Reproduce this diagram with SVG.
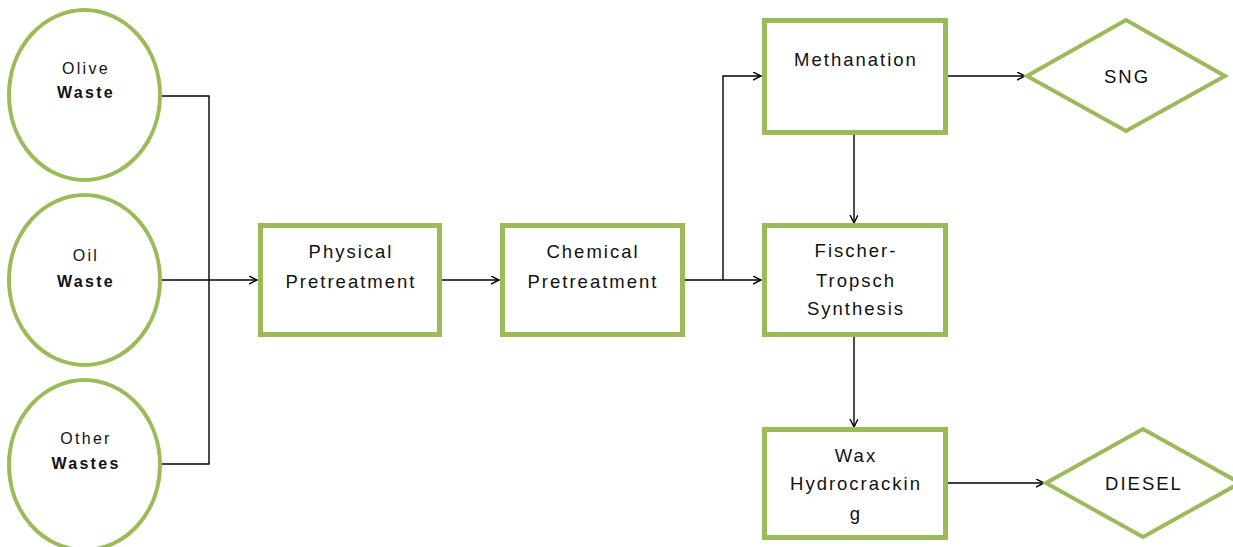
<svg xmlns="http://www.w3.org/2000/svg" width="1233" height="547" viewBox="0 0 1233 547">
<defs>
<style>
.shape{fill:#fff;stroke:#9BBB59}
.box{stroke-width:5}
.ell{stroke-width:4}
.lbl{font-family:"Liberation Sans",Arial,sans-serif;font-size:18.5px;letter-spacing:2px;fill:#111;text-anchor:middle}
.clbl{font-family:"Liberation Sans",Arial,sans-serif;font-size:16px;letter-spacing:2.3px;fill:#111;text-anchor:middle}
.b{font-weight:bold}
.con{fill:none;stroke:#000;stroke-width:1.4}
</style>
<marker id="arr" markerUnits="userSpaceOnUse" markerWidth="10" markerHeight="10" refX="8" refY="4" orient="auto">
<path d="M0,0 L8,4 L0,8" fill="none" stroke="#000" stroke-width="1.4"/>
</marker>
</defs>
<rect width="1233" height="547" fill="#fff"/>

<g id="connectors">
<path class="con" d="M162,96 H209 V464 H162"/>
<path class="con" d="M162,280 H257" marker-end="url(#arr)"/>
<path class="con" d="M442,280 H499" marker-end="url(#arr)"/>
<path class="con" d="M685,280 H761" marker-end="url(#arr)"/>
<path class="con" d="M723,280 V76 H761" marker-end="url(#arr)"/>
<path class="con" d="M948,76 H1025" marker-end="url(#arr)"/>
<path class="con" d="M854,135 V223" marker-end="url(#arr)"/>
<path class="con" d="M854,337 V427" marker-end="url(#arr)"/>
<path class="con" d="M948,483 H1044" marker-end="url(#arr)"/>
</g>

<g id="olive">
<ellipse class="shape ell" cx="84.5" cy="95" rx="75.5" ry="85"/>
<text class="clbl" x="86" y="74">Olive</text>
<text class="clbl b" x="86" y="98">Waste</text>
</g>
<g id="oil">
<ellipse class="shape ell" cx="84.5" cy="280" rx="75.5" ry="85"/>
<text class="clbl" x="86" y="261">Oil</text>
<text class="clbl b" x="86" y="287">Waste</text>
</g>
<g id="other">
<ellipse class="shape ell" cx="84.5" cy="465" rx="75.5" ry="85"/>
<text class="clbl" x="86" y="444">Other</text>
<text class="clbl b" x="86" y="469">Wastes</text>
</g>

<g id="physical">
<rect class="shape box" x="260.5" y="225.5" width="179" height="109"/>
<text class="lbl" x="351" y="258">Physical</text>
<text class="lbl" x="351" y="288">Pretreatment</text>
</g>
<g id="chemical">
<rect class="shape box" x="502.5" y="225.5" width="180" height="109"/>
<text class="lbl" x="593" y="258">Chemical</text>
<text class="lbl" x="593" y="288">Pretreatment</text>
</g>
<g id="methanation">
<rect class="shape box" x="764.5" y="20.5" width="181" height="112"/>
<text class="lbl" x="856" y="66">Methanation</text>
</g>
<g id="sng">
<polygon class="shape ell" points="1027,76 1126,20 1225,76 1126,131"/>
<text class="lbl" x="1127" y="83">SNG</text>
</g>
<g id="fischer">
<rect class="shape box" x="764.5" y="225.5" width="181" height="109"/>
<text class="lbl" x="856" y="257">Fischer-</text>
<text class="lbl" x="856" y="287">Tropsch</text>
<text class="lbl" x="856" y="315">Synthesis</text>
</g>
<g id="wax">
<rect class="shape box" x="764.5" y="429.5" width="181" height="108"/>
<text class="lbl" x="856" y="462">Wax</text>
<text class="lbl" x="856" y="490">Hydrocrackin</text>
<text class="lbl" x="856" y="520">g</text>
</g>
<g id="diesel">
<polygon class="shape ell" points="1046,483 1143,429 1240,483 1143,537"/>
<text class="lbl" x="1144" y="490">DIESEL</text>
</g>
</svg>
